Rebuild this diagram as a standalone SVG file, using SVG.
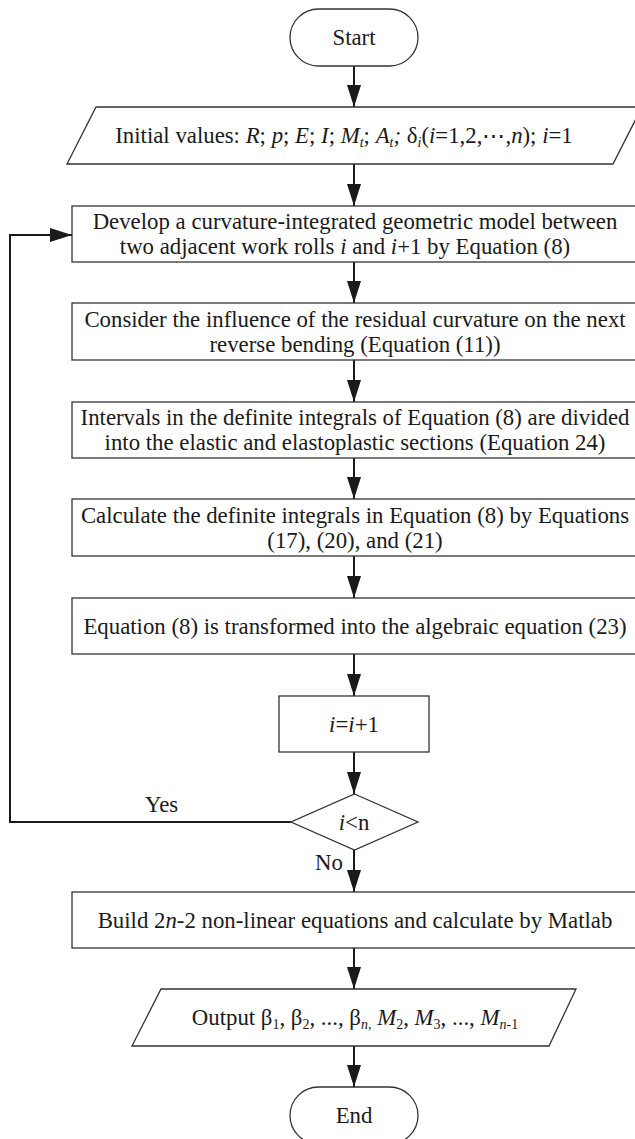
<svg xmlns="http://www.w3.org/2000/svg" width="635" height="1139" viewBox="0 0 635 1139">
<style>
.shape{fill:#fff;stroke:#333;stroke-width:1.3}
.t{font-family:"Liberation Serif","Times New Roman",serif;font-size:22.8px;fill:#1a1a1a;text-anchor:middle}
.lbl{font-family:"Liberation Serif","Times New Roman",serif;font-size:22.8px;fill:#1a1a1a}
.it{font-style:italic}
.sub{font-size:14px}
.conn{fill:none;stroke:#1a1a1a;stroke-width:2}
</style>
<defs>
<marker id="ah" viewBox="0 0 22 14" markerWidth="22" markerHeight="14" refX="22" refY="7" orient="auto" markerUnits="userSpaceOnUse">
<path d="M0,0 L22,7 L0,14 z" fill="#1a1a1a"/>
</marker>
</defs>
<g id="connectors">
<path class="conn" d="M354,66 V107" marker-end="url(#ah)"/>
<path class="conn" d="M354,164 V206" marker-end="url(#ah)"/>
<path class="conn" d="M354,262 V303" marker-end="url(#ah)"/>
<path class="conn" d="M354,360 V402" marker-end="url(#ah)"/>
<path class="conn" d="M354,458 V499" marker-end="url(#ah)"/>
<path class="conn" d="M354,556 V598" marker-end="url(#ah)"/>
<path class="conn" d="M354,654 V696" marker-end="url(#ah)"/>
<path class="conn" d="M354,752 V794" marker-end="url(#ah)"/>
<path class="conn" d="M354,850 V892" marker-end="url(#ah)"/>
<path class="conn" d="M354,948 V989" marker-end="url(#ah)"/>
<path class="conn" d="M354,1046 V1087" marker-end="url(#ah)"/>
<path class="conn" d="M291,822 H10 V235 H72" marker-end="url(#ah)"/>
<text class="lbl" x="145" y="812">Yes</text>
<text class="lbl" x="315" y="870">No</text>
</g>
<g id="start">
<rect class="shape" x="290" y="9" width="128" height="57" rx="28.5"/>
<text class="t" x="354" y="45">Start</text>
</g>
<g id="init">
<polygon class="shape" points="96,107 642,107 613,164 67,164"/>
<text class="t" x="344" y="143">Initial values: <tspan class="it">R</tspan>; <tspan class="it">p</tspan>; <tspan class="it">E</tspan>; <tspan class="it">I</tspan>; <tspan class="it">M</tspan><tspan class="it sub" dy="4">t</tspan><tspan dy="-4">; </tspan><tspan class="it">A</tspan><tspan class="it sub" dy="4">t</tspan><tspan class="it" dy="-4">;  </tspan>δ<tspan class="it sub" dy="4">i</tspan><tspan dy="-4">(</tspan><tspan class="it">i</tspan>=1,2,⋯,<tspan class="it">n</tspan>); <tspan class="it">i</tspan>=1</text>
</g>
<g id="develop">
<rect class="shape" x="72" y="206" width="564" height="56"/>
<text class="t" x="355" y="229">Develop a curvature-integrated geometric model between</text>
<text class="t" x="345" y="254">two adjacent work rolls <tspan class="it">i</tspan> and <tspan class="it">i</tspan>+1 by Equation (8)</text>
</g>
<g id="consider">
<rect class="shape" x="72" y="303" width="564" height="57"/>
<text class="t" x="355" y="326.5">Consider the influence of the residual curvature on the next</text>
<text class="t" x="355" y="351.5">reverse bending (Equation (11))</text>
</g>
<g id="intervals">
<rect class="shape" x="72" y="402" width="564" height="56"/>
<text class="t" x="355" y="425">Intervals in the definite integrals of Equation (8) are divided</text>
<text class="t" x="355" y="450">into the elastic and elastoplastic sections (Equation 24)</text>
</g>
<g id="calculate">
<rect class="shape" x="72" y="499" width="564" height="57"/>
<text class="t" x="355" y="522.5">Calculate the definite integrals in Equation (8) by Equations</text>
<text class="t" x="355" y="547.5">(17), (20), and (21)</text>
</g>
<g id="transform">
<rect class="shape" x="72" y="598" width="564" height="56"/>
<text class="t" x="355" y="633.5">Equation (8) is transformed into the algebraic equation (23)</text>
</g>
<g id="increment">
<rect class="shape" x="279" y="696" width="150" height="56"/>
<text class="t" x="354" y="731.5"><tspan class="it">i</tspan>=<tspan class="it">i</tspan>+1</text>
</g>
<g id="decision">
<polygon class="shape" points="354.5,794 418,822 354.5,850 291,822"/>
<text class="t" x="354" y="829.5"><tspan class="it">i</tspan>&lt;n</text>
</g>
<g id="build">
<rect class="shape" x="72" y="892" width="564" height="56"/>
<text class="t" x="355" y="927.5">Build 2<tspan class="it">n</tspan>-2 non-linear equations and calculate by Matlab</text>
</g>
<g id="output">
<polygon class="shape" points="161,989 576,989 549,1046 132,1046"/>
<text class="t" x="355" y="1025">Output β<tspan class="sub" dy="4">1</tspan><tspan dy="-4">, β</tspan><tspan class="sub" dy="4">2</tspan><tspan dy="-4">, ..., β</tspan><tspan class="it sub" dy="4">n,</tspan><tspan dy="-4"> </tspan><tspan class="it">M</tspan><tspan class="sub" dy="4">2</tspan><tspan dy="-4">, </tspan><tspan class="it">M</tspan><tspan class="sub" dy="4">3</tspan><tspan dy="-4">, ..., </tspan><tspan class="it">M</tspan><tspan class="it sub" dy="4">n</tspan><tspan class="sub">-1</tspan></text>
</g>
<g id="end">
<rect class="shape" x="290" y="1087" width="128" height="57" rx="28.5"/>
<text class="t" x="354" y="1123">End</text>
</g>
</svg>
